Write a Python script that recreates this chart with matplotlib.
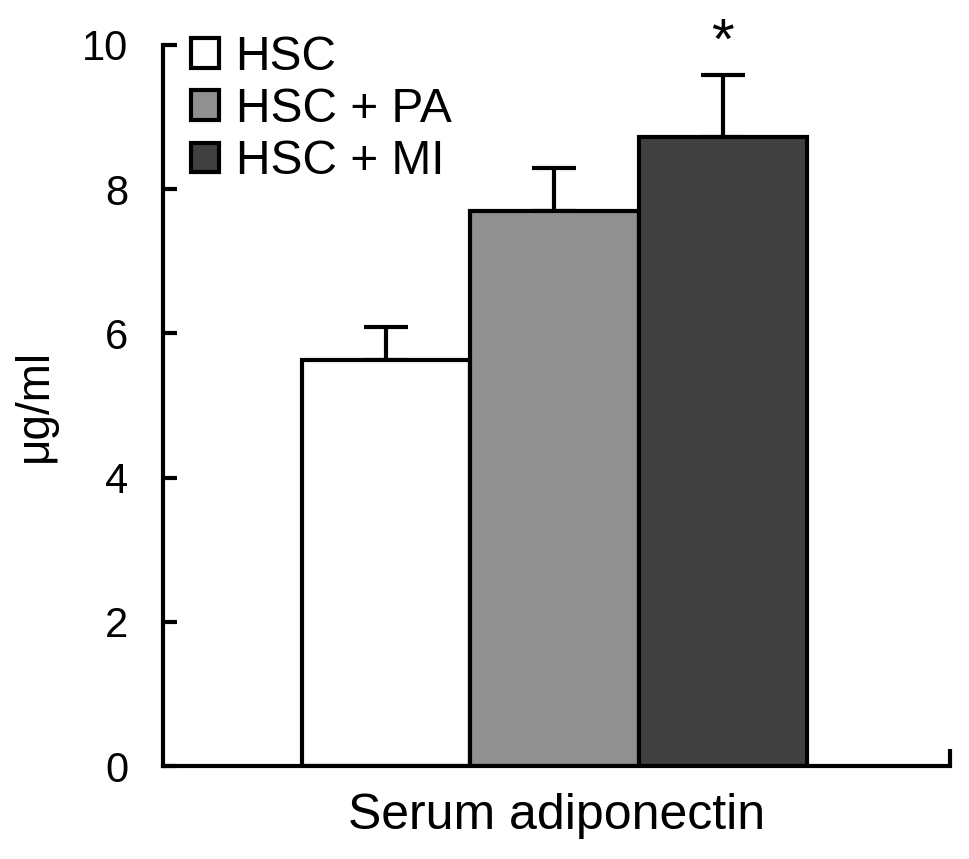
import numpy as np
import matplotlib
matplotlib.use('Agg')
import matplotlib.pyplot as plt
from matplotlib.patches import Patch

plt.rcParams['font.family'] = ['Liberation Sans', 'DejaVu Sans']

groups = ['HSC', 'HSC + PA', 'HSC + MI']
means = [5.63, 7.70, 8.72]
errors = [0.46, 0.59, 0.86]
colors = ['#ffffff', '#909090', '#404040']
sig_marks = ['', '', '*']

fig = plt.figure(figsize=(9.69, 8.59), dpi=100)
ax = fig.add_axes([163/969, 1 - 766/859, (950 - 163)/969, (766 - 45)/859])

x = np.arange(len(groups))
ax.bar(x, means, width=1.0, color=colors, edgecolor='black', linewidth=3, zorder=2)
ax.errorbar(x, means, yerr=[np.zeros(len(means)), errors], fmt='none',
            ecolor='black', elinewidth=3, capsize=16, capthick=3, zorder=1)

for xi, m, e, s in zip(x, means, errors, sig_marks):
    if s:
        ax.text(xi, m + e + 0.06, s, ha='center', va='bottom', fontsize=42)

ax.set_xlim(-1.326, 3.35)
ax.set_ylim(0, 10)
ax.set_yticks([0, 2, 4, 6, 8, 10])
ax.set_xticks([3.35])
ax.set_xticklabels([''])

ax.spines['top'].set_visible(False)
ax.spines['right'].set_visible(False)
ax.spines['left'].set_linewidth(3)
ax.spines['bottom'].set_linewidth(3)
ax.tick_params(axis='y', direction='in', length=10, width=3, labelsize=30, pad=25)
ax.tick_params(axis='x', direction='in', length=12, width=3)

ax.set_ylabel('μg/ml', fontsize=33, labelpad=18)
ax.set_xlabel('Serum adiponectin', fontsize=36, labelpad=16)

handles = [Patch(facecolor=c, edgecolor='black', linewidth=3) for c in colors]
leg = ax.legend(handles, groups, loc='upper left', bbox_to_anchor=(191/969, 1 - 35/859),
                bbox_transform=fig.transFigure, frameon=False, fontsize=34.5,
                handlelength=0.58, handleheight=0.58, handletextpad=0.35,
                labelspacing=0.15, borderpad=0, borderaxespad=0)

fig.savefig('out.png', dpi=100)
